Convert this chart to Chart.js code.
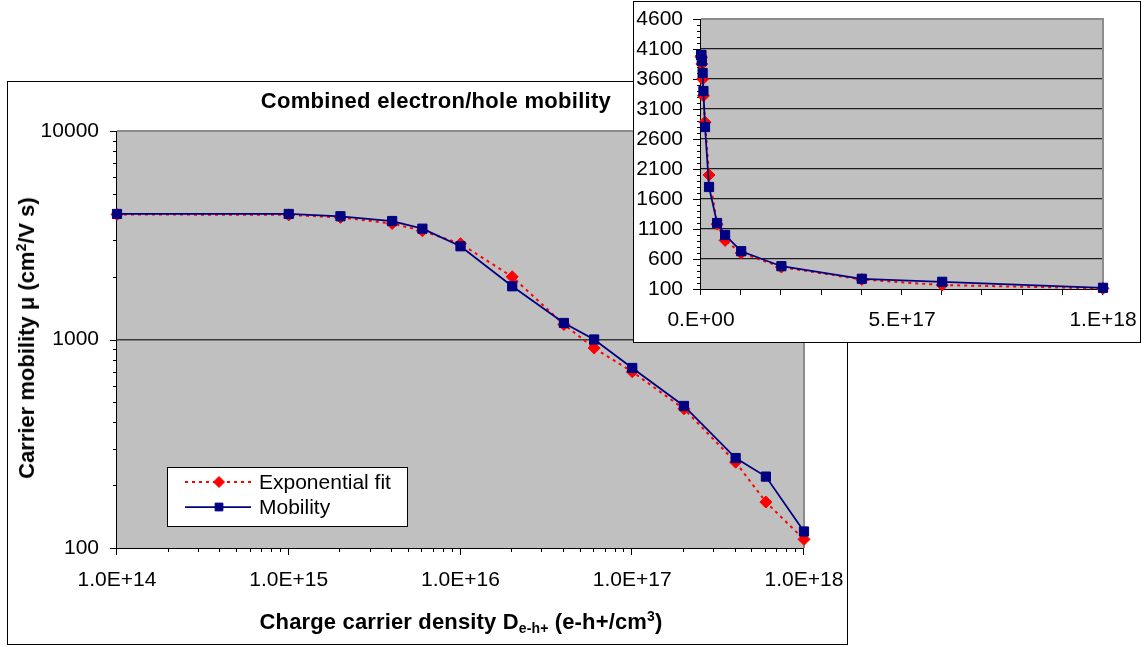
<!DOCTYPE html>
<html>
<head>
<meta charset="utf-8">
<script src="https://cdn.jsdelivr.net/npm/chart.js@4.4.1/dist/chart.umd.min.js"></script>
<style>
  html, body { margin: 0; padding: 0; background: #fff; }
  body { width: 1144px; height: 647px; position: relative; overflow: hidden;
         font-family: "Liberation Sans", Arial, sans-serif; color: #000; }
  #mainBox  { position: absolute; left: 7px;   top: 81px; width: 839px; height: 562px;
              border: 1px solid #000; background: #fff; }
  #insetBox { position: absolute; left: 633px; top: 1px;  width: 506px; height: 340px;
              border: 1px solid #000; background: #fff; }
  canvas { display: block; }
  .ttl { position: absolute; font-weight: bold; font-size: 22px; line-height: 22px;
         white-space: nowrap; }
  .ttl sub { font-size: 14px; vertical-align: baseline; position: relative; top: 4px; }
  .ttl sup { font-size: 14px; vertical-align: baseline; position: relative; top: -8px; }
</style>
</head>
<body>
<div id="mainBox"><canvas id="mainChart" width="839" height="562"></canvas></div>
<div id="insetBox"><canvas id="insetChart" width="506" height="340"></canvas></div>

<div class="ttl" id="chartTitle" style="left:436px; top:90px; transform:translateX(-50%); letter-spacing:0.3px;">Combined electron/hole mobility</div>
<div class="ttl" id="xTitle" style="left:461px; top:611px; transform:translateX(-50%); letter-spacing:0.15px;">Charge carrier density D<sub>e-h+</sub> (e-h+/cm<sup>3</sup>)</div>
<div class="ttl" id="yTitle" style="left:28px; top:338px; transform:translate(-50%,-50%) rotate(-90deg);">Carrier mobility &mu; (cm<sup>2</sup>/V s)</div>

<script>
// Charge-carrier density of each sample (e-h+/cm^3)
const density  = [1e14, 1e15, 2e15, 4e15, 6e15, 1e16, 2e16, 4e16, 6e16, 1e17, 2e17, 4e17, 6e17, 1e18];
// Combined electron/hole mobility (cm^2/V s)
const mobility = [4000, 4000, 3900, 3700, 3400, 2800, 1800, 1200, 1000, 730, 480, 270, 220, 120];
// Exponential fit evaluated at the same densities
const expFit   = [3980, 3960, 3850, 3600, 3320, 2880, 2000, 1180, 910, 700, 465, 258, 166, 110];

const seriesNames = ['Exponential fit', 'Mobility'];

// Log-log panel ticks
const logXTicks      = [1e14, 1e15, 1e16, 1e17, 1e18];
const logXTickLabels = ['1.0E+14', '1.0E+15', '1.0E+16', '1.0E+17', '1.0E+18'];
const logYTicks      = [100, 1000, 10000];
const logYTickLabels = ['100', '1000', '10000'];

// Linear panel ticks
const linXTicks      = [0, 5e17, 1e18];
const linXTickLabels = ['0.E+00', '5.E+17', '1.E+18'];
const linYTicks      = [100, 600, 1100, 1600, 2100, 2600, 3100, 3600, 4100, 4600];
const linYTickLabels = ['100', '600', '1100', '1600', '2100', '2600', '3100', '3600', '4100', '4600'];

const FONT = '"Liberation Sans", Arial, sans-serif';
Chart.defaults.font.family = FONT;
Chart.defaults.color = '#000';

const pts = vals => density.map((x, i) => ({ x: x, y: vals[i] }));

function datasets() {
  // Mobility listed first so it is painted above the fit
  return [
    { label: seriesNames[1], data: pts(mobility), borderColor: '#000080', backgroundColor: '#000080',
      borderWidth: 1.75, pointStyle: 'rect', pointRadius: 6.5, pointBorderWidth: 1,
      pointBackgroundColor: '#000080', pointBorderColor: '#000080', tension: 0, clip: false },
    { label: seriesNames[0], data: pts(expFit), borderColor: '#FF0000', backgroundColor: '#FF0000',
      borderWidth: 2, borderDash: [3, 4], pointStyle: 'rectRot', pointRadius: 6, pointBorderWidth: 1,
      pointBackgroundColor: '#FF0000', pointBorderColor: '#FF0000', tension: 0, clip: false }
  ];
}

// Grey plot background, frame, axis lines and tick marks
function frame(tickSpec) {
  return {
    id: 'frame',
    beforeDraw(chart) {
      const a = chart.chartArea, ctx = chart.ctx;
      ctx.save();
      ctx.fillStyle = '#C0C0C0';
      ctx.fillRect(a.left, a.top, a.right - a.left, a.bottom - a.top);
      ctx.restore();
    },
    beforeDatasetsDraw(chart) {
      const a = chart.chartArea, ctx = chart.ctx;
      ctx.save();
      ctx.strokeStyle = '#8c8c8c';
      ctx.lineWidth = 2;
      ctx.beginPath();
      ctx.moveTo(a.left, a.top); ctx.lineTo(a.right, a.top); ctx.lineTo(a.right, a.bottom);
      ctx.stroke();
      ctx.strokeStyle = '#000';
      ctx.lineWidth = 1;
      ctx.beginPath();
      ctx.moveTo(a.left - 0.5, a.top); ctx.lineTo(a.left - 0.5, a.bottom + 0.5);
      ctx.lineTo(a.right, a.bottom + 0.5);
      ctx.stroke();
      const xs = chart.scales.x, ys = chart.scales.y;
      ctx.beginPath();
      tickSpec.x.forEach(t => {
        const px = Math.round(xs.getPixelForValue(t.v)) - 0.5;
        ctx.moveTo(px, a.bottom); ctx.lineTo(px, a.bottom + t.len);
      });
      tickSpec.y.forEach(t => {
        const py = Math.round(ys.getPixelForValue(t.v)) + 0.5;
        ctx.moveTo(a.left, py); ctx.lineTo(a.left - t.len, py);
      });
      ctx.stroke();
      ctx.restore();
    }
  };
}

function logTicks(lo, hi, majorLen, minorLen) {
  const out = [];
  for (let d = lo; d <= hi; d *= 10) {
    out.push({ v: d, len: majorLen });
    if (d < hi) for (let m = 2; m <= 9; m++) out.push({ v: m * d, len: minorLen });
  }
  return out;
}

// Legend box drawn inside the plot
const boxLegend = {
  id: 'boxLegend',
  afterDraw(chart) {
    const ctx = chart.ctx;
    const bx = 159, by = 385, bw = 240, bh = 59;
    ctx.save();
    ctx.fillStyle = '#fff';
    ctx.fillRect(bx, by, bw, bh);
    ctx.strokeStyle = '#000';
    ctx.lineWidth = 1;
    ctx.strokeRect(bx + 0.5, by + 0.5, bw, bh);
    const order = [1, 0];
    const rows = [400, 425];
    order.forEach((di, r) => {
      const ds = chart.data.datasets[di];
      const y = rows[r];
      ctx.strokeStyle = ds.borderColor;
      ctx.lineWidth = ds.borderWidth;
      ctx.setLineDash(ds.borderDash || []);
      ctx.beginPath();
      ctx.moveTo(177, y); ctx.lineTo(243, y);
      ctx.stroke();
      ctx.setLineDash([]);
      ctx.fillStyle = ds.pointBackgroundColor;
      ctx.strokeStyle = ds.pointBorderColor;
      ctx.lineWidth = 1;
      Chart.helpers.drawPoint(ctx, { pointStyle: ds.pointStyle, radius: 5.5, borderWidth: 1, rotation: 0 }, 211, y);
      ctx.fillStyle = '#000';
      ctx.font = '21px ' + FONT;
      ctx.textBaseline = 'middle';
      ctx.textAlign = 'left';
      ctx.fillText(ds.label, 251, y + 1);
    });
    ctx.restore();
  }
};

const tickFont = { family: FONT, size: 21 };

// Fixed axis sizes so the plot area sits exactly inside the layout padding
const fixX = h => s => { s.height = h; s.paddingLeft = 0; s.paddingRight = 0; };
const fixY = w => s => { s.width = w; s.paddingTop = 0; s.paddingBottom = 0; };

new Chart(document.getElementById('mainChart'), {
  type: 'line',
  data: { datasets: datasets() },
  options: {
    responsive: false, animation: false, devicePixelRatio: 1,
    layout: { padding: { left: 0, top: 49, right: 43, bottom: 0 } },
    plugins: { legend: { display: false }, tooltip: { enabled: false } },
    scales: {
      x: {
        type: 'logarithmic', min: 1e14, max: 1e18,
        afterFit: fixX(96),
        afterBuildTicks: s => { s.ticks = logXTicks.map(v => ({ value: v })); },
        ticks: { autoSkip: false, maxRotation: 0, padding: 20, color: '#000', font: tickFont,
                 callback: (v, i) => logXTickLabels[i] },
        grid: { drawOnChartArea: false, drawTicks: false },
        border: { display: false }
      },
      y: {
        type: 'logarithmic', min: 100, max: 10000,
        afterFit: fixY(109),
        afterBuildTicks: s => { s.ticks = logYTicks.map(v => ({ value: v })); },
        ticks: { autoSkip: false, padding: 18, color: '#000', font: tickFont,
                 callback: (v, i) => logYTickLabels[i] },
        grid: { drawTicks: false, lineWidth: 1.5,
                color: c => (c.tick && c.tick.value === 1000) ? '#3a3a3a' : 'rgba(0,0,0,0)' },
        border: { display: false }
      }
    }
  },
  plugins: [frame({ x: logTicks(1e14, 1e18, 7, 4), y: logTicks(100, 10000, 7, 4) }), boxLegend]
});

const insetXT = [], insetYT = [];
for (let k = 0; k <= 10; k++) insetXT.push({ v: k * 1e17, len: 6 });
for (let v = 100; v <= 4600; v += 100) insetYT.push({ v: v, len: (v - 100) % 500 === 0 ? 8 : 4 });

new Chart(document.getElementById('insetChart'), {
  type: 'line',
  data: { datasets: datasets() },
  options: {
    responsive: false, animation: false, devicePixelRatio: 1,
    layout: { padding: { left: 0, top: 17, right: 37, bottom: 0 } },
    plugins: { legend: { display: false }, tooltip: { enabled: false } },
    scales: {
      x: {
        type: 'linear', min: 0, max: 1e18,
        afterFit: fixX(53),
        afterBuildTicks: s => { s.ticks = linXTicks.map(v => ({ value: v })); },
        ticks: { autoSkip: false, maxRotation: 0, padding: 19, color: '#000', font: tickFont,
                 callback: (v, i) => linXTickLabels[i] },
        grid: { drawOnChartArea: false, drawTicks: false },
        border: { display: false }
      },
      y: {
        type: 'linear', min: 100, max: 4600,
        afterFit: fixY(67),
        afterBuildTicks: s => { s.ticks = linYTicks.map(v => ({ value: v })); },
        ticks: { autoSkip: false, padding: 18, color: '#000', font: tickFont,
                 callback: (v, i) => linYTickLabels[i] },
        grid: { drawTicks: false, lineWidth: 1.3,
                color: c => (c.tick && c.tick.value > 100 && c.tick.value < 4600) ? '#1e1e1e' : 'rgba(0,0,0,0)' },
        border: { display: false }
      }
    }
  },
  plugins: [frame({ x: insetXT, y: insetYT })]
});
</script>
</body>
</html>
